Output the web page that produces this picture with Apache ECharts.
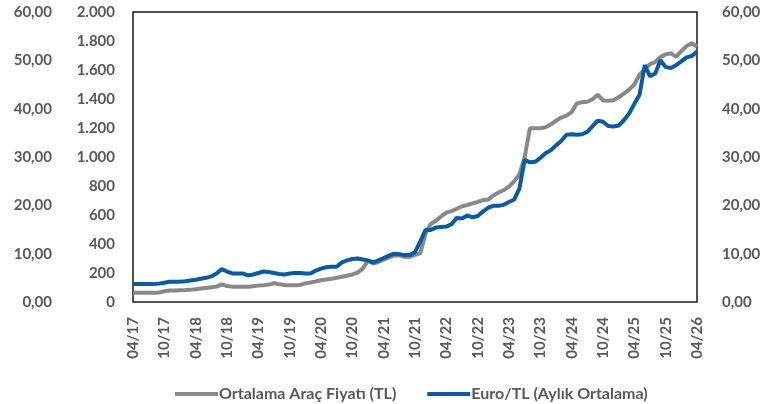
<!DOCTYPE html>
<html>
<head>
<meta charset="utf-8">
<script src="https://cdn.jsdelivr.net/npm/echarts@6/dist/echarts.min.js"></script>
<style>
html,body{margin:0;padding:0;background:#fff;}
#chart{width:772px;height:404px;}
</style>
</head>
<body>
<div id="chart"></div>
<script>
var categories = [
"04/17","05/17","06/17","07/17","08/17","09/17","10/17","11/17","12/17",
"01/18","02/18","03/18","04/18","05/18","06/18","07/18","08/18","09/18","10/18","11/18","12/18",
"01/19","02/19","03/19","04/19","05/19","06/19","07/19","08/19","09/19","10/19","11/19","12/19",
"01/20","02/20","03/20","04/20","05/20","06/20","07/20","08/20","09/20","10/20","11/20","12/20",
"01/21","02/21","03/21","04/21","05/21","06/21","07/21","08/21","09/21","10/21","11/21","12/21",
"01/22","02/22","03/22","04/22","05/22","06/22","07/22","08/22","09/22","10/22","11/22","12/22",
"01/23","02/23","03/23","04/23","05/23","06/23","07/23","08/23","09/23","10/23","11/23","12/23",
"01/24","02/24","03/24","04/24","05/24","06/24","07/24","08/24","09/24","10/24","11/24","12/24",
"01/25","02/25","03/25","04/25","05/25","06/25","07/25","08/25","09/25","10/25","11/25","12/25",
"01/26","02/26","03/26","04/26"
];

var carPrice = [
64,64,64,64,64,66,74,79,80,81,
82,84,88,93,97,101,106,122,110,106,
105,105,105,108,113,116,120,129,122,118,
116,115,118,129,135,142,150,155,161,167,
174,181,190,203,230,285,265,276,292,308,
320,322,312,312,325,335,470,538,560,590,
616,627,643,660,669,680,690,702,706,735,
755,772,796,834,880,1000,1198,1198,1198,1205,
1225,1250,1272,1285,1310,1370,1378,1381,1398,1430,
1390,1388,1392,1412,1437,1465,1500,1568,1605,1640,
1655,1690,1708,1715,1692,1730,1765,1784,1762
];

var euroTL = [
3.7,3.7,3.7,3.7,3.7,3.8,4.0,4.2,4.2,4.2,
4.3,4.45,4.6,4.8,5.0,5.3,5.9,6.8,6.3,5.9,
5.9,5.9,5.5,5.7,6.0,6.3,6.2,6.0,5.8,5.7,
5.9,6.0,6.0,5.9,5.9,6.5,6.9,7.2,7.3,7.3,
8.2,8.6,8.9,9.0,8.8,8.6,8.2,8.6,9.1,9.6,
10.0,9.9,9.7,9.7,10.3,12.5,14.9,14.9,15.4,15.5,
15.6,16.1,17.4,17.3,17.9,17.5,17.8,18.7,19.5,19.9,
19.9,20.1,20.7,21.2,23.5,29.4,28.9,29.0,29.8,30.8,
31.4,32.4,33.3,34.6,34.7,34.6,34.7,35.2,36.4,37.5,
37.3,36.4,36.3,36.5,37.6,39.0,41.0,42.9,49.0,46.7,
47.3,50.0,48.6,48.4,49.0,49.8,50.6,50.9,51.8
];

var seriesNames = ["Ortalama Araç Fiyatı (TL)", "Euro/TL (Aylık Ortalama)"];
var carTicks = {min:0, max:2000, interval:200};
var euroTicks = {min:0, max:60, interval:10};

var FONT = "Lato";
var TXT = "#595959";

function fmtThousands(v){
  return String(v).replace(/\B(?=(\d{3})+(?!\d))/g, ".");
}
function fmtDec(v){
  return v.toFixed(2).replace(".", ",");
}

var chart = echarts.init(document.getElementById("chart"), null, {renderer:"canvas"});
var lbl = {fontFamily:FONT, fontWeight:"bold", fontSize:15, color:TXT};

chart.setOption({
  animation:false,
  backgroundColor:"#ffffff",
  grid:{left:133, right:75, top:12, bottom:102, show:true, borderColor:"#1a1a1a", borderWidth:1.5, backgroundColor:"transparent"},
  legend:{
    left:170, top:381,
    itemWidth:43, itemHeight:4, itemGap:31,
    icon:"rect",
    textStyle:{fontFamily:FONT, fontWeight:"bold", fontSize:16, color:TXT, padding:[0,0,0,-4]},
    data:seriesNames
  },
  xAxis:{
    type:"category", data:categories, boundaryGap:false,
    axisLine:{show:false}, axisTick:{show:false}, splitLine:{show:false},
    axisLabel:Object.assign({rotate:90, interval:5, margin:15}, lbl)
  },
  yAxis:[
    {type:"value", position:"left", min:carTicks.min, max:carTicks.max, interval:carTicks.interval,
     axisLine:{show:false}, axisTick:{show:false}, splitLine:{show:false},
     axisLabel:Object.assign({margin:18, formatter:fmtThousands}, lbl)},
    {type:"value", position:"right", min:euroTicks.min, max:euroTicks.max, interval:euroTicks.interval,
     axisLine:{show:false}, axisTick:{show:false}, splitLine:{show:false},
     axisLabel:Object.assign({margin:25, formatter:fmtDec}, lbl)},
    {type:"value", position:"left", offset:63, min:euroTicks.min, max:euroTicks.max, interval:euroTicks.interval,
     axisLine:{show:false}, axisTick:{show:false}, splitLine:{show:false},
     axisLabel:Object.assign({margin:18, formatter:fmtDec}, lbl)}
  ],
  series:[
    {name:seriesNames[0], type:"line", yAxisIndex:0, data:carPrice, symbol:"none",
     lineStyle:{width:4, color:"#898989"}, itemStyle:{color:"#898989"}},
    {name:seriesNames[1], type:"line", yAxisIndex:1, data:euroTL, symbol:"none",
     lineStyle:{width:4, color:"#0b5aa3"}, itemStyle:{color:"#0b5aa3"}}
  ]
});
</script>
</body>
</html>
